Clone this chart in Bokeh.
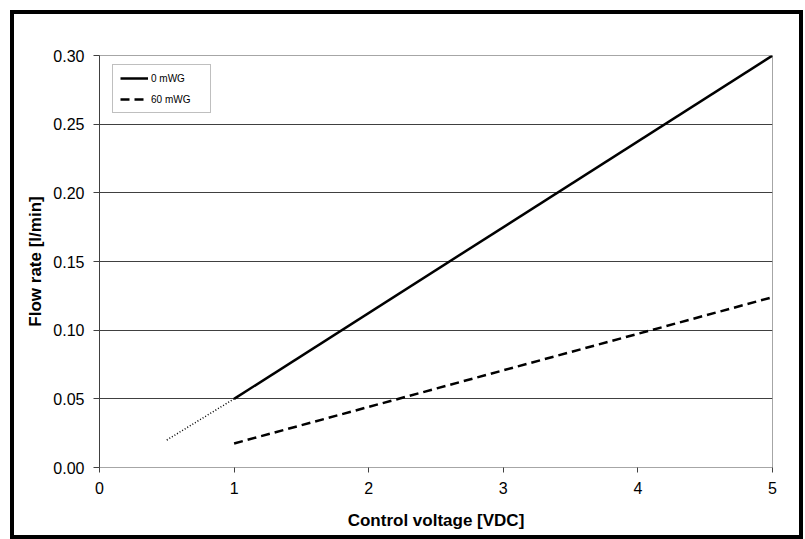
from bokeh.plotting import figure
from bokeh.models import Range1d, FixedTicker, NumeralTickFormatter, Legend, LegendItem
from bokeh.embed import file_html
from bokeh.resources import INLINE

# Data
x_0mwg = [1, 5]
y_0mwg = [0.05, 0.30]
x_0mwg_extrap = [0.5, 1]
y_0mwg_extrap = [0.02, 0.05]
x_60mwg = [1, 5]
y_60mwg = [0.0175, 0.124]
x_ticks = [0, 1, 2, 3, 4, 5]
y_ticks = [0.00, 0.05, 0.10, 0.15, 0.20, 0.25, 0.30]
legend_labels = ["0 mWG", "60 mWG"]

FONT = "Liberation Sans"

p = figure(width=785, height=521, output_backend="svg", toolbar_location=None,
           x_range=Range1d(0, 5), y_range=Range1d(0, 0.30),
           min_border_left=85, min_border_right=35, min_border_top=41, min_border_bottom=76,
           styles={"border": "4px solid black", "box-sizing": "content-box",
                   "margin-left": "10px", "margin-top": "10px", "overflow": "hidden"})

p.background_fill_color = "white"
p.border_fill_color = "white"
p.outline_line_color = "#a6a6a6"
p.outline_line_width = 1

# grids
p.xgrid.visible = False
p.ygrid.ticker = FixedTicker(ticks=y_ticks[1:-1])
p.ygrid.grid_line_color = "#404040"
p.ygrid.grid_line_width = 1

# axes
p.xaxis.ticker = FixedTicker(ticks=x_ticks)
p.yaxis.ticker = FixedTicker(ticks=y_ticks)
p.yaxis.formatter = NumeralTickFormatter(format="0.00")
for ax in (p.xaxis[0], p.yaxis[0]):
    ax.minor_tick_line_color = None
    ax.major_tick_in = 0
    ax.major_label_text_font = FONT
    ax.major_label_text_font_size = "16px"
    ax.major_label_text_color = "#000000"
    ax.axis_label_text_font = FONT
    ax.axis_label_text_font_size = "17px"
    ax.axis_label_text_font_style = "bold"
    ax.axis_label_text_color = "#000000"
    ax.major_tick_line_color = "#404040"

p.xaxis.axis_line_color = "#a6a6a6"
p.yaxis.axis_line_color = "#404040"
p.xaxis.major_tick_out = 5
p.yaxis.major_tick_out = 6
p.xaxis.major_label_standoff = 9
p.yaxis.major_label_standoff = 9
p.xaxis.axis_label = "Control voltage [VDC]"
p.yaxis.axis_label = "Flow rate [l/min]"
p.xaxis.axis_label_standoff = 14
p.yaxis.axis_label_standoff = 5

# lines
r0 = p.line(x_0mwg, y_0mwg, line_color="black", line_width=2.5)
p.line(x_0mwg_extrap, y_0mwg_extrap, line_color="black", line_width=1.5, line_dash="1 2")
r60 = p.line(x_60mwg, y_60mwg, line_color="black", line_width=2.5, line_dash="9 5")

legend = Legend(items=[LegendItem(label=legend_labels[0], renderers=[r0]),
                       LegendItem(label=legend_labels[1], renderers=[r60])],
                location=(13, 354))
legend.label_text_font = FONT
legend.label_text_font_size = "10px"
legend.label_text_color = "#000000"
legend.border_line_color = "#808080"
legend.border_line_width = 1
legend.background_fill_alpha = 1.0
legend.padding = 7
legend.spacing = 9
legend.glyph_width = 28
legend.glyph_height = 12
legend.label_height = 12
legend.label_width = 52
legend.label_standoff = 3
legend.margin = 0
p.add_layout(legend, "center")

open("out.html", "w").write(file_html(p, INLINE))
